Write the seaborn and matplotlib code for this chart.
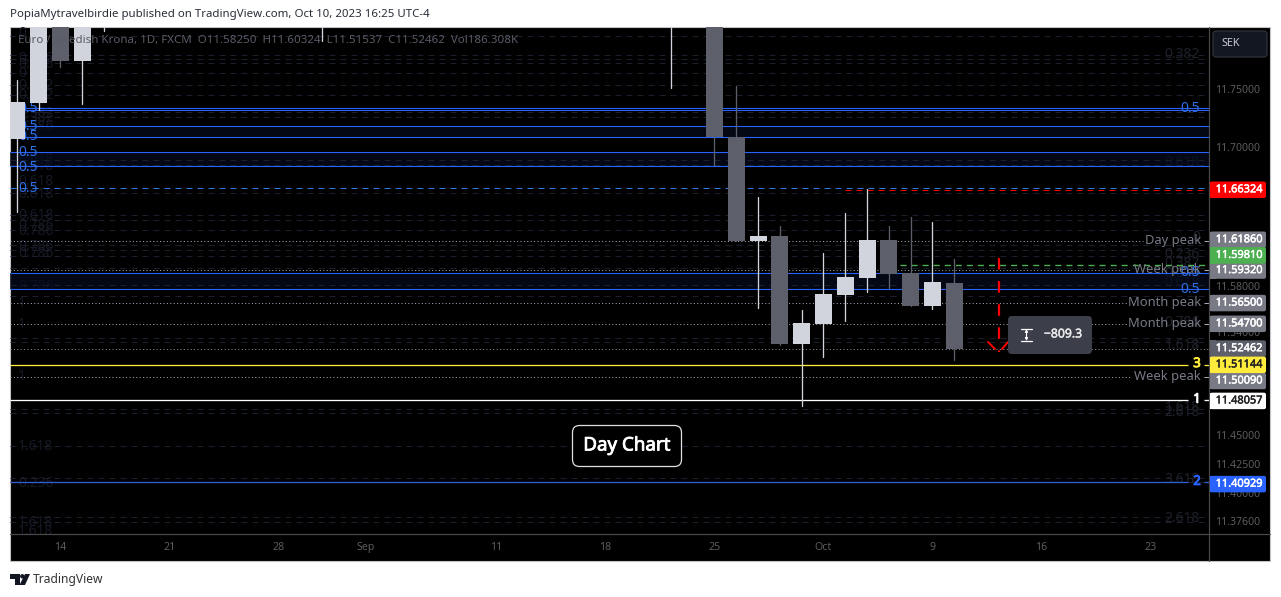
import matplotlib
matplotlib.use("Agg")
import matplotlib.pyplot as plt
import matplotlib.patheffects as pe
from matplotlib.patches import FancyBboxPatch, Rectangle, Polygon, Circle
import pandas as pd
import seaborn as sns

# ---------- data ----------
candle_idx = [-37, -36, -35, -34, -33, -23, -7, -5, -4, -3, -2, -1, 0, 1, 2, 3, 4, 5, 6]
open_p  = [11.7071, 11.7383, 11.8300, 11.7747, 11.8400, 11.8400, 11.8400, 11.8400, 11.7088, 11.6186,
           11.6229, 11.5293, 11.5466, 11.5718, 11.5865, 11.6195, 11.5908, 11.5622, 11.58250]
high_p  = [11.7582, 11.8400, 11.8400, 11.8400, 11.8600, 11.8600, 11.8600, 11.8600, 11.7530, 11.6568,
           11.6316, 11.5588, 11.6082, 11.6429, 11.6637, 11.6316, 11.6394, 11.6351, 11.60324]
low_p   = [11.6438, 11.7322, 11.7695, 11.7374, 11.8007, 11.7921, 11.7513, 11.6845, 11.6186, 11.5605,
           11.5284, 11.4755, 11.5180, 11.5492, 11.5744, 11.5778, 11.5622, 11.5596, 11.51537]
close_p = [11.7392, 11.8300, 11.7747, 11.8300, 11.8500, 11.8500, 11.8500, 11.7088, 11.6186, 11.6229,
           11.5293, 11.5475, 11.5726, 11.5874, 11.6195, 11.5900, 11.5622, 11.5830, 11.52462]

blue_solid = [11.7337, 11.7320, 11.7181, 11.7085, 11.6955, 11.6834, 11.5906, 11.5767]
blue_bands = [(11.7181, 11.7085), (11.6955, 11.6834), (11.5906, 11.5767)]
blue_dashed = 11.6650
faint_levels = [11.7967, 11.7799, 11.7765, 11.7730, 11.7643, 11.7539, 11.7452, 11.7305, 11.7261, 11.6889,
                11.6845, 11.6602, 11.6412, 11.6368, 11.6281, 11.6151, 11.6108, 11.6056, 11.5952,
                11.5804, 11.5709, 11.5345, 11.5310, 11.4729, 11.4694, 11.4408, 11.4130, 11.4096,
                11.3792, 11.3749]
peak_levels = [11.6186, 11.5932, 11.5650, 11.5470, 11.5009]
peak_names = ["Day peak", "Week peak", "Month peak", "Month peak", "Week peak"]
last_close = 11.52462
red_level, green_level = 11.66324, 11.59810
yellow_level, white_level, blue2_level = 11.51144, 11.48057, 11.40929

x_tick_pos = [-35, -30, -25, -21, -15, -10, -5, 0, 5, 10, 15]
x_tick_lab = ["14", "21", "28", "Sep", "11", "18", "25", "Oct", "9", "16", "23"]
y_tick_val = [11.75, 11.70, 11.58, 11.54, 11.45, 11.425, 11.40, 11.376]

tags = [(11.66324, "#ff0000", "white", 0), (11.61860, "#787b86", "white", -1.5),
        (11.59320, "#787b86", "white", 0), (11.59810, "#4caf50", "white", -9.5),
        (11.56500, "#787b86", "white", 0), (11.54700, "#787b86", "white", 0),
        (11.52462, "#5d606b", "white", -1), (11.50090, "#787b86", "white", 4),
        (11.51144, "#ffeb3b", "#222222", 0), (11.48057, "#ffffff", "#222222", 0.5),
        (11.40929, "#2962ff", "white", 1.5)]

left_fib = [("0", 32), ("0.236", 57), ("0.236", 63), ("0", 72), ("0.382", 84), ("0.382", 94), ("0.382", 112),
            ("0.382", 117), ("0.786", 125), ("0.618", 158), ("0.618", 165), ("0.618", 180), ("0.618", 193),
            ("0.618", 214), ("0.786", 224), ("0.786", 230), ("0.786", 245), ("0.786", 252), ("0.786", 285),
            ("1", 302), ("1", 323), ("1", 375), ("1.618", 445), ("0.236", 482), ("1.618", 521), ("1.618", 534)]
right_fib = [("0.382", 53), ("0.618", 161), ("0", 236), ("0.236", 253), ("0.382", 262), ("0.618", 272),
             ("0.618", 281), ("0.786", 321), ("1", 343), ("1.618", 344), ("1.618", 406), ("2.618", 411),
             ("3.618", 478), ("2.618", 517)]
left_half = [107, 125, 135, 151, 166, 187]
right_half = [107, 271, 288]

# ---------- theme ----------
sns.set_theme(style="dark", rc={"axes.facecolor": "none", "figure.facecolor": "white",
                                "axes.grid": False})
FONT = ["Noto Sans", "DejaVu Sans"]
plt.rcParams["font.family"] = FONT

W, H = 1281, 597
fig = plt.figure(figsize=(W / 100, H / 100), dpi=100)
L, R, T, B = 10, 1209, 27, 534


def thick(color, width=0.45):
    return [pe.withStroke(linewidth=width, foreground=color)]


def pixel_axes(z):
    a = fig.add_axes([0, 0, 1, 1], zorder=z)
    a.set_xlim(0, W)
    a.set_ylim(H, 0)
    a.axis("off")
    return a


bg = pixel_axes(0)
bg.add_patch(Rectangle((10, 27), 1260, 534, fc="black", ec="#c4c4c8", lw=0.8))

# faint fib texts sit under the candles
for s, y in left_fib:
    bg.text(18, min(y, 530) + 1.5, s, color="#171a26", fontsize=10, va="center", ha="left")
for s, y in right_fib:
    bg.text(1200, y + 1.5, s, color="#1f2129", fontsize=10, va="center", ha="right")

ax = fig.add_axes([L / W, 1 - B / H, (R - L) / W, (B - T) / H], zorder=1)
ax.set_xlim((L - 823.5) / 21.8, (R - 823.5) / 21.8)
ax.set_ylim(11.3645, 11.8042)
ax.patch.set_alpha(0)
for s in ax.spines.values():
    s.set_visible(False)
px = 0.72  # one pixel, in points

# bands and levels
for a_, b_ in blue_bands:
    ax.axhspan(b_, a_, color="#050c1c", alpha=0.75, lw=0, zorder=1)
xl, xr = ax.get_xlim()
ax.hlines(faint_levels, xl, xr - 0.25, colors="#1b1e2c", lw=px, linestyles=(0, (6, 5)), zorder=1.5)
ax.hlines(blue_solid, xl, xr, colors="#2962ff", lw=px * 1.1, zorder=2)
ax.hlines(blue_dashed, xl, xr, colors="#3179e0", lw=px, linestyles=(0, (6, 5)), zorder=2)
ax.hlines(red_level, 1.0, xr, colors="#ff0000", lw=px, linestyles=(0, (6, 5)), zorder=2.1)
peak_stop = [14.65, 14.1, 13.9, 13.9, 14.1]
for lv, stop in zip(peak_levels, peak_stop):
    ax.hlines(lv, xl, stop, colors="#a8abb4", lw=px, linestyles=(0, (1, 2.4)), zorder=2)
    ax.hlines(lv, 17.45, xr, colors="#a8abb4", lw=px, zorder=2)
ax.hlines(green_level, 3.5, xr, colors="#4caf50", lw=px * 1.4, linestyles=(0, (4.3, 3.6)), zorder=2.1)
ax.hlines(last_close, xl, xr, colors="#8a8d96", lw=px, linestyles=(0, (1, 2.4)), zorder=2)
for lv, col in [(yellow_level, "#ffeb3b"), (white_level, "#ffffff"), (blue2_level, "#2f5fd8")]:
    ax.hlines(lv, xl, 16.72, colors=col, lw=px * 1.3, zorder=2.2)
    ax.hlines(lv, 17.45, xr, colors=col, lw=px * 1.3, zorder=2.2)

# blue 0.5 labels: above the bands, below the candles
for y in left_half:
    ax.text(18, y + 1.5, "0.5", color="#2e6fe8", fontsize=10, va="center", ha="left", zorder=2.5,
            transform=bg.transData)
for y in right_half:
    ax.text(1200, y + 1.5, "0.5", color="#2e6fe8", fontsize=10, va="center", ha="right", zorder=2.5,
            transform=bg.transData)

# candles
df = pd.DataFrame({"i": candle_idx, "o": open_p, "h": high_p, "l": low_p, "c": close_p})
df["up"] = df["c"] >= df["o"]
wicks = pd.concat([df[["i", "up"]].assign(price=df["h"]), df[["i", "up"]].assign(price=df["l"])])
sns.lineplot(data=wicks, x="i", y="price", hue="up", units="i", estimator=None, sort=False,
             palette={True: "#d1d4dc", False: "#5d606b"}, lw=px * 1.3, legend=False, ax=ax, zorder=3)
ax.bar(df["i"], (df["c"] - df["o"]).abs(), bottom=df[["o", "c"]].min(axis=1), width=0.78,
       color=df["up"].map({True: "#d1d4dc", False: "#5d606b"}), edgecolor="none", linewidth=0, zorder=4)

ax.set_xlabel("")
ax.set_ylabel("")
ax.set_xlim(xl, xr)
ax.set_ylim(11.3645, 11.8042)
ax.set_xticks(x_tick_pos, x_tick_lab)
ax.yaxis.tick_right()
ax.set_yticks(y_tick_val, [f"{v:.5f}" for v in y_tick_val])
ax.tick_params(axis="x", length=0, pad=6, labelsize=7.6, labelcolor="#5c5c5c", bottom=True)
ax.tick_params(axis="y", length=0, pad=4.5, labelsize=7.6, labelcolor="#5c5c5c", right=True)

fg = pixel_axes(2)


def py(p):
    return H - ax.transData.transform((0, p))[1]


# axis separators
fg.plot([R, R], [27, 561], color="#4a4a4a", lw=px * 1.2)
fg.plot([10, 1270], [B, B], color="#4a4a4a", lw=px * 1.2)

# legend header / watermark
fg.text(18, 41, "Euro / Swedish Krona, 1D, FXCM  O11.58250  H11.60324  L11.51537  C11.52462  Vol186.308K",
        color="#5a5c66", fontsize=8.3, va="center", ha="left", zorder=6)
fg.text(10, 14.5, "PopiaMytravelbirdie published on TradingView.com, Oct 10, 2023 16:25 UTC-4",
        color="#2a2e39", fontsize=8.25, va="center", ha="left")

# peak names and numbers
for lv, nm in zip(peak_levels, peak_names):
    fg.text(1201, py(lv) - 0.5, nm, color="#787b86", fontsize=9.3, va="center", ha="right", zorder=6)
for lv, s, col in [(yellow_level, "3", "#ffeb3b"), (white_level, "1", "#ffffff"), (blue2_level, "2", "#2962ff")]:
    fg.text(1197, py(lv) - 1, s, color=col, fontsize=9.5, va="center", ha="center", path_effects=thick(col, 0.7))

# price tags
for p, col, tc, shift in tags:
    y = py(p) + shift
    fg.add_patch(FancyBboxPatch((1210, y - 8), 56, 16.5, boxstyle="round,pad=0,rounding_size=2",
                                fc=col, ec="none", zorder=7))
    fg.add_patch(Rectangle((1209.5, y - 8), 6, 16.5, fc=col, ec="none", zorder=7))
    fg.text(1239, y + 0.3, f"{p:.5f}", color=tc, fontsize=7.9, va="center", ha="center", zorder=8,
            path_effects=thick(tc, 0.35))

# currency button
fg.add_patch(FancyBboxPatch((1213, 31), 54, 26, boxstyle="round,pad=0,rounding_size=3",
                            fc="#131722", ec="#33363f", lw=0.8))
fg.text(1222, 44, "SEK", color="#c8cad0", fontsize=7.8, va="center", ha="left")

# measure tool
fg.plot([998.5, 998.5], [258, 352], color="#ff0000", lw=1.6, linestyle=(0, (5.2, 5.2)), zorder=5)
fg.plot([988, 995], [342, 349], color="#ff0000", lw=1.4, zorder=5)
fg.plot([1002, 1008], [349, 342], color="#ff0000", lw=1.4, zorder=5)
fg.add_patch(FancyBboxPatch((1008, 316), 84, 38, boxstyle="round,pad=0,rounding_size=4",
                            fc="#3c3f4a", ec="none", zorder=6))
fg.plot([1021, 1032], [328.5, 328.5], color="white", lw=0.9, zorder=7)
fg.plot([1021, 1032], [341, 341], color="white", lw=0.9, zorder=7)
fg.annotate("", xy=(1026.5, 329), xytext=(1026.5, 341), zorder=7,
            arrowprops=dict(arrowstyle="<|-|>", color="white", lw=0.8, mutation_scale=4, shrinkA=0, shrinkB=0))
fg.text(1063, 334, "\u2212809.3", color="#e8e8ea", fontsize=8.8, va="center", ha="center", zorder=7,
        path_effects=thick("#e8e8ea", 0.35))

# text box
fg.add_patch(FancyBboxPatch((572.5, 425.5), 109, 41, boxstyle="round,pad=0,rounding_size=7",
                            fc="black", ec="#e0e0e0", lw=0.9, zorder=6))
fg.text(627, 445.5, "Day Chart", color="white", fontsize=13.5, va="center", ha="center", zorder=7,
        path_effects=thick("white", 0.6))

# footer logo
fg.add_patch(Polygon([(10, 574), (20, 574), (20, 585), (15, 585), (15, 578.5), (10, 578.5)], fc="#131722", ec="none"))
fg.add_patch(Circle((22.3, 576.3), 2.2, fc="#131722", ec="none"))
fg.add_patch(Polygon([(25, 574), (30, 574), (25, 585), (19.5, 585)], fc="#131722", ec="none"))
fg.text(33, 579.5, "TradingView", color="#333333", fontsize=8.7, va="center", ha="left")

fig.savefig("out.png", dpi=100)
